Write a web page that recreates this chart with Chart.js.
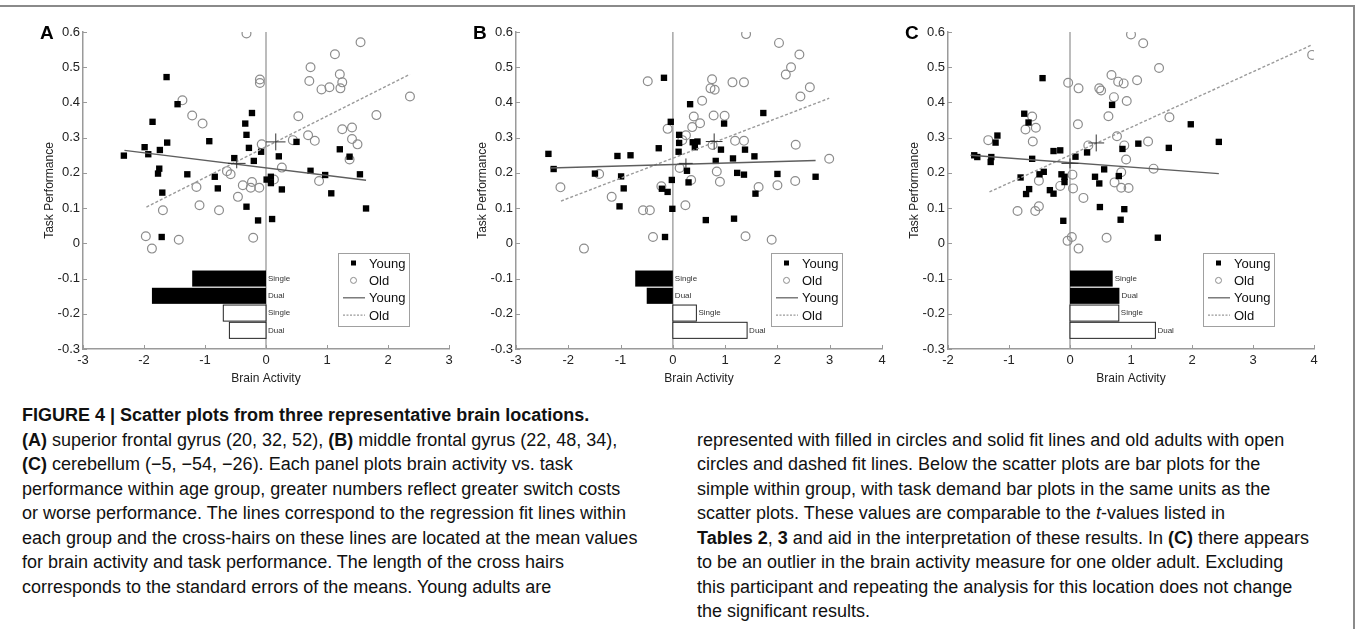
<!DOCTYPE html>
<html>
<head>
<meta charset="utf-8">
<script src="https://cdn.jsdelivr.net/npm/chart.js@4.4.1/dist/chart.umd.min.js"></script>
<style>
body{margin:0;background:#fff;width:1357px;height:629px;overflow:hidden;position:relative;font-family:"Liberation Sans",Arial,sans-serif}
.panel{position:absolute;top:0;width:460px;height:400px}
.frame-top{position:absolute;left:0;top:5px;width:1355px;height:2px;background:#8a8a8a}
.frame-right{position:absolute;left:1353px;top:5px;width:2px;height:624px;background:#8a8a8a}
.cap{position:absolute;font-size:18px;line-height:24.5px;color:#111;white-space:nowrap}
</style>
</head>
<body>
<div class="frame-top"></div>
<div class="frame-right"></div>
<div class="panel" style="left:0px"><canvas id="chartA" width="460" height="400"></canvas></div>
<div class="panel" style="left:433px"><canvas id="chartB" width="460" height="400"></canvas></div>
<div class="panel" style="left:865px"><canvas id="chartC" width="460" height="400"></canvas></div>

<div class="cap" style="left:22px;top:403px">
<b>FIGURE 4 | Scatter plots from three representative brain locations.</b><br>
<b>(A)</b> superior frontal gyrus (20, 32, 52), <b>(B)</b> middle frontal gyrus (22, 48, 34),<br>
<b>(C)</b> cerebellum (−5, −54, −26). Each panel plots brain activity vs. task<br>
performance within age group, greater numbers reflect greater switch costs<br>
or worse performance. The lines correspond to the regression fit lines within<br>
each group and the cross-hairs on these lines are located at the mean values<br>
for brain activity and task performance. The length of the cross hairs<br>
corresponds to the standard errors of the means. Young adults are
</div>
<div class="cap" style="left:697px;top:427.5px">
represented with filled in circles and solid fit lines and old adults with open<br>
circles and dashed fit lines. Below the scatter plots are bar plots for the<br>
simple within group, with task demand bar plots in the same units as the<br>
scatter plots. These values are comparable to the <i>t</i>-values listed in<br>
<b>Tables 2</b>, <b>3</b> and aid in the interpretation of these results. In <b>(C)</b> there appears<br>
to be an outlier in the brain activity measure for one older adult. Excluding<br>
this participant and repeating the analysis for this location does not change<br>
the significant results.
</div>

<script>
/* ================= DATA ================= */

const yRange = [-0.3, 0.6];
const xRangeA = [-3, 3];
const xRangeB = [-3, 4];
const xRangeC = [-2, 4];

const youngA = [
    [-2.33,0.249],[-1.99,0.273],[-1.93,0.253],[-1.86,0.345],[-1.74,0.265],[-1.75,0.212],[-1.77,0.198],
    [-1.70,0.144],[-1.71,0.018],[-1.63,0.472],[-1.45,0.395],[-1.62,0.286],[-0.93,0.29],[-1.29,0.196],
    [-0.84,0.189],[-0.79,0.156],[-0.52,0.242],[-0.23,0.37],[-0.34,0.34],[-0.32,0.308],[-0.28,0.271],
    [-0.20,0.234],[-0.08,0.26],[0.21,0.247],[0.50,0.288],[0.01,0.181],[0.08,0.189],[0.08,0.171],
    [0.26,0.153],[-0.32,0.104],[-0.13,0.065],[0.10,0.069],[1.21,0.267],[1.37,0.246],[0.73,0.206],
    [0.97,0.194],[1.54,0.196],[1.07,0.142],[1.64,0.099]
];
const oldA = [
    [-1.69,0.094],[-1.97,0.02],[-1.87,-0.015],[-0.32,0.596],[-0.10,0.465],[-0.10,0.455],[-1.37,0.406],
    [-1.21,0.363],[-1.04,0.34],[0.53,0.361],[0.44,0.293],[-0.07,0.281],[0.26,0.215],[0.13,0.181],
    [-0.64,0.205],[-0.58,0.196],[-1.14,0.16],[-0.38,0.165],[-0.23,0.174],[-0.25,0.158],[-0.11,0.158],
    [-0.46,0.132],[-1.09,0.108],[-0.77,0.094],[-0.21,0.016],[-1.43,0.01],[1.55,0.571],[1.13,0.537],
    [0.73,0.50],[0.71,0.461],[1.21,0.48],[1.25,0.457],[0.91,0.437],[1.04,0.443],[1.22,0.44],
    [2.36,0.417],[1.81,0.364],[1.25,0.324],[1.41,0.329],[0.69,0.307],[0.80,0.291],[1.41,0.296],
    [1.50,0.281],[1.37,0.238],[0.87,0.177]
];
const fitYoungA = [[-2.32,0.264],[1.64,0.179]];
const fitOldA = [[-1.96,0.103],[2.36,0.48]];
const meanYoungA = [-0.48,0.227], errYoungA = [0.145,0.014];
const meanOldA = [0.16,0.288], errOldA = [0.16,0.024];

const youngB = [
    [-2.38,0.254],[-2.28,0.211],[-1.49,0.198],[-0.17,0.47],[0.33,0.395],[-0.04,0.345],[0.98,0.34],
    [0.12,0.308],[0.12,0.285],[0.38,0.287],[0.47,0.289],[0.42,0.273],[-0.27,0.27],[0.11,0.26],
    [0.92,0.266],[-1.06,0.248],[-0.81,0.25],[0.82,0.234],[1.15,0.241],[-0.99,0.19],[0.27,0.206],
    [-0.94,0.156],[-0.02,0.18],[0.30,0.173],[-0.21,0.155],[-0.10,0.146],[-1.02,0.105],[-0.01,0.098],
    [0.63,0.066],[1.17,0.07],[-0.15,0.018],[1.73,0.37],[1.38,0.266],[1.56,0.247],[1.23,0.2],
    [1.36,0.195],[2.0,0.197],[2.73,0.189],[1.58,0.141]
];
const oldB = [
    [-2.15,0.159],[-1.70,-0.015],[-0.48,0.46],[0.75,0.466],[0.72,0.44],[0.80,0.436],[1.14,0.457],
    [1.36,0.457],[0.56,0.405],[0.40,0.36],[0.78,0.363],[0.99,0.362],[0.52,0.341],[0.37,0.33],
    [-0.10,0.325],[0.25,0.307],[0.18,0.293],[0.76,0.279],[1.19,0.291],[1.36,0.291],[0.13,0.214],
    [-1.41,0.197],[0.84,0.204],[0.90,0.175],[0.35,0.18],[-0.22,0.162],[-1.17,0.132],[0.24,0.108],
    [-0.57,0.094],[-0.44,0.094],[-0.38,0.018],[1.39,0.02],[1.89,0.01],[1.40,0.594],[2.03,0.569],
    [2.42,0.536],[2.26,0.50],[2.16,0.479],[2.62,0.443],[2.44,0.417],[2.35,0.28],[2.99,0.24],
    [1.64,0.16],[2.0,0.165],[2.34,0.177]
];
const fitYoungB = [[-2.35,0.214],[2.73,0.235]];
const fitOldB = [[-2.14,0.12],[2.99,0.412]];
const meanYoungB = [0.25,0.227], errYoungB = [0.13,0.014];
const meanOldB = [0.79,0.289], errOldB = [0.16,0.023];

const youngC = [
    [-1.57,0.25],[-1.52,0.245],[-1.19,0.306],[-1.22,0.286],[-1.29,0.245],[-1.30,0.231],[-0.75,0.368],
    [-0.68,0.343],[-0.62,0.24],[-0.81,0.187],[-0.67,0.154],[-0.72,0.14],[-0.50,0.196],[-0.45,0.469],
    [0.69,0.393],[1.98,0.338],[-0.27,0.262],[-0.16,0.264],[0.28,0.258],[0.09,0.246],[1.12,0.283],
    [0.86,0.268],[1.62,0.271],[0.56,0.21],[-0.43,0.203],[-0.14,0.196],[-0.09,0.189],[-0.09,0.174],
    [0.41,0.189],[0.48,0.17],[0.80,0.191],[-0.33,0.151],[-0.27,0.141],[0.49,0.103],[0.89,0.097],
    [0.83,0.067],[-0.11,0.064],[1.44,0.016],[2.44,0.288]
];
const oldC = [
    [-1.34,0.293],[-0.62,0.36],[-0.73,0.323],[-0.56,0.328],[-0.61,0.289],[-0.86,0.092],[-0.57,0.092],
    [-0.51,0.105],[1.0,0.593],[1.2,0.568],[1.46,0.498],[0.68,0.478],[0.79,0.459],[0.88,0.454],
    [1.10,0.463],[-0.03,0.456],[0.14,0.44],[0.48,0.44],[0.51,0.434],[0.72,0.415],[0.93,0.404],
    [0.63,0.361],[1.63,0.358],[0.13,0.338],[0.77,0.304],[0.30,0.278],[0.89,0.278],[1.28,0.289],
    [0.92,0.238],[1.37,0.212],[-0.51,0.178],[0.04,0.195],[0.84,0.202],[0.73,0.173],[-0.16,0.163],
    [0.05,0.156],[0.84,0.158],[0.96,0.157],[0.22,0.129],[0.03,0.018],[-0.04,0.007],[0.14,-0.015],
    [0.60,0.016],[3.97,0.535]
];
const fitYoungC = [[-1.63,0.25],[2.44,0.198]];
const fitOldC = [[-1.32,0.146],[3.96,0.563]];
const meanYoungC = [0.0,0.227], errYoungC = [0.14,0.014];
const meanOldC = [0.43,0.285], errOldC = [0.13,0.024];

/* simple bar plots under each scatter */
const barLabels = ["Single", "Dual", "Single", "Dual"];
const barGroups = ["Young", "Young", "Old", "Old"];
const barsA = [-1.21, -1.87, -0.70, -0.60];
const barsB = [-0.72, -0.50, 0.45, 1.42];
const barsC = [0.70, 0.81, 0.80, 1.40];

const legendLabels = ["Young", "Old", "Young", "Old"];

/* ================= DRAW HELPERS ================= */

const FONT = '"Liberation Sans", Arial, sans-serif';

function seg(ctx, x1, y1, x2, y2) {
    ctx.beginPath();
    ctx.moveTo(x1, y1);
    ctx.lineTo(x2, y2);
    ctx.stroke();
}

function pts(list) {
    return list.map(p => ({ x: p[0], y: p[1] }));
}

const decor = {
    id: "decor",
    beforeDatasetsDraw(chart, args, o) {
        const { ctx, chartArea: a, scales: { x, y } } = chart;
        ctx.save();

        // x = 0 reference line
        const x0 = x.getPixelForValue(0);
        ctx.strokeStyle = "#a6a6a6";
        ctx.lineWidth = 1.5;
        seg(ctx, x0, a.top, x0, a.bottom);

        // inward ticks
        ctx.strokeStyle = "#9a9a9a";
        ctx.lineWidth = 1;
        x.ticks.forEach(t => {
            const px = Math.round(x.getPixelForValue(t.value)) + 0.5;
            seg(ctx, px, a.bottom, px, a.bottom - 4);
        });
        y.ticks.forEach(t => {
            const py = Math.round(y.getPixelForValue(t.value)) + 0.5;
            seg(ctx, a.left, py, a.left + 4, py);
        });

        // bars
        o.bars.forEach((v, i) => {
            const yc = -0.1 - i * 0.049;
            const top = y.getPixelForValue(yc + 0.0228);
            const bot = y.getPixelForValue(yc - 0.0228);
            const l = x.getPixelForValue(Math.min(0, v));
            const r = x.getPixelForValue(Math.max(0, v));
            if (barGroups[i] === "Young") {
                ctx.fillStyle = "#000";
                ctx.fillRect(l, top, r - l, bot - top);
            } else {
                ctx.fillStyle = "#fff";
                ctx.fillRect(l, top, r - l, bot - top);
                ctx.strokeStyle = "#222";
                ctx.lineWidth = 1;
                ctx.strokeRect(l, top, r - l, bot - top);
            }
            ctx.fillStyle = "#333";
            ctx.font = "8px " + FONT;
            ctx.textBaseline = "middle";
            ctx.textAlign = "left";
            ctx.fillText(barLabels[i], r + 2, (top + bot) / 2);
        });
        ctx.restore();
    },
    afterDatasetsDraw(chart, args, o) {
        const { ctx, chartArea: a, scales: { x, y } } = chart;
        ctx.save();

        // cross hairs at group means
        ctx.strokeStyle = "#333";
        ctx.lineWidth = 1;
        o.means.forEach((m, i) => {
            const e = o.errs[i];
            seg(ctx, x.getPixelForValue(m[0] - e[0]), y.getPixelForValue(m[1]),
                     x.getPixelForValue(m[0] + e[0]), y.getPixelForValue(m[1]));
            seg(ctx, x.getPixelForValue(m[0]), y.getPixelForValue(m[1] - e[1]),
                     x.getPixelForValue(m[0]), y.getPixelForValue(m[1] + e[1]));
        });

        // legend box
        const lx = a.left + 255, ly = a.top + 221, lw = 71, lh = 73;
        ctx.fillStyle = "#fff";
        ctx.fillRect(lx, ly, lw, lh);
        ctx.strokeStyle = "#a0a0a0";
        ctx.lineWidth = 1;
        ctx.strokeRect(lx + 0.5, ly + 0.5, lw, lh);

        legendLabels.forEach((lab, k) => {
            const ry = ly + 10 + k * 17.4;
            if (k === 0) {
                ctx.fillStyle = "#000";
                ctx.fillRect(lx + 13, ry - 2.5, 5, 5);
            } else if (k === 1) {
                ctx.strokeStyle = "#8c8c8c";
                ctx.beginPath();
                ctx.arc(lx + 15.5, ry, 3, 0, Math.PI * 2);
                ctx.stroke();
            } else {
                ctx.strokeStyle = k === 2 ? "#666" : "#999";
                ctx.lineWidth = 1.3;
                ctx.setLineDash(k === 2 ? [] : [2, 1.5]);
                seg(ctx, lx + 5, ry, lx + 27, ry);
                ctx.setLineDash([]);
            }
            ctx.fillStyle = "#111";
            ctx.font = "13px " + FONT;
            ctx.textAlign = "left";
            ctx.textBaseline = "middle";
            ctx.fillText(lab, lx + 31, ry + 1);
        });

        // panel letter
        ctx.fillStyle = "#000";
        ctx.font = "bold 19px " + FONT;
        ctx.textAlign = "left";
        ctx.textBaseline = "middle";
        ctx.fillText(o.letter, a.left - 43, a.top + 2);
        ctx.restore();
    }
};

/* ================= CHARTS ================= */

function makePanel(id, letter, xr, young, old, fitY, fitO, means, errs, bars) {
    return new Chart(document.getElementById(id), {
        type: "scatter",
        data: {
            datasets: [
                {
                    data: pts(fitY), showLine: true, pointRadius: 0,
                    borderColor: "#5e5e5e", borderWidth: 1.4, order: 0
                },
                {
                    data: pts(fitO), showLine: true, pointRadius: 0,
                    borderColor: "#9a9a9a", borderWidth: 1.4, borderDash: [3, 2], order: 0
                },
                {
                    data: pts(young), pointStyle: "rect", pointRadius: 4.5,
                    backgroundColor: "#000", borderColor: "#000", borderWidth: 0, order: 1
                },
                {
                    data: pts(old), pointStyle: "circle", pointRadius: 4.4,
                    backgroundColor: "rgba(0,0,0,0)", borderColor: "#8c8c8c", borderWidth: 1.2, order: 2
                }
            ]
        },
        options: {
            responsive: false,
            animation: false,
            events: [],
            layout: { padding: { left: 38, top: 32, right: 11, bottom: 10 } },
            plugins: {
                legend: { display: false },
                tooltip: { enabled: false },
                decor: { letter, means, errs, bars }
            },
            scales: {
                x: {
                    type: "linear", min: xr[0], max: xr[1],
                    ticks: { stepSize: 1, color: "#222", font: { size: 13, family: FONT }, padding: 4, maxRotation: 0 },
                    grid: { display: false, drawTicks: false },
                    border: { color: "#9a9a9a", width: 1.5 },
                    title: { display: true, text: "Brain Activity", color: "#222", font: { size: 12, family: FONT } },
                    afterFit: s => { s.height = 41; }
                },
                y: {
                    type: "linear", min: yRange[0], max: yRange[1],
                    ticks: {
                        stepSize: 0.1, color: "#222", font: { size: 13, family: FONT }, padding: 3,
                        callback: v => String(Math.round(v * 10) / 10)
                    },
                    grid: { display: false, drawTicks: false },
                    border: { color: "#9a9a9a", width: 1.5 },
                    title: { display: true, text: "Task Performance", color: "#222", font: { size: 12, family: FONT } },
                    afterFit: s => { s.width = 45; }
                }
            }
        },
        plugins: [decor]
    });
}

makePanel("chartA", "A", xRangeA, youngA, oldA, fitYoungA, fitOldA,
    [meanYoungA, meanOldA], [errYoungA, errOldA], barsA);
makePanel("chartB", "B", xRangeB, youngB, oldB, fitYoungB, fitOldB,
    [meanYoungB, meanOldB], [errYoungB, errOldB], barsB);
makePanel("chartC", "C", xRangeC, youngC, oldC, fitYoungC, fitOldC,
    [meanYoungC, meanOldC], [errYoungC, errOldC], barsC);
</script>
</body>
</html>
